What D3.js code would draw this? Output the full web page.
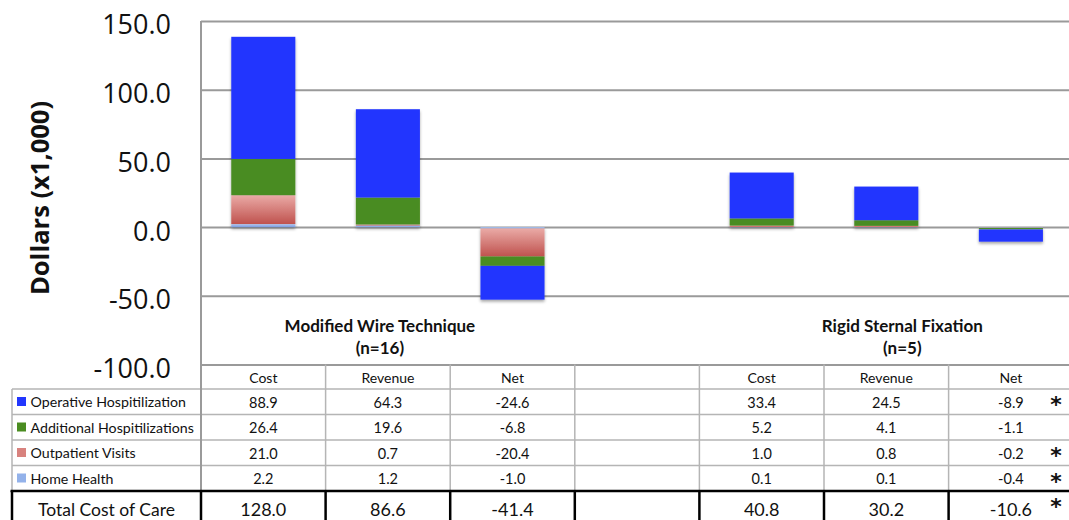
<!DOCTYPE html>
<html>
<head>
<meta charset="utf-8">
<script src="https://cdn.jsdelivr.net/npm/d3@7"></script>
<style>
  html, body { margin: 0; padding: 0; background: #fff; }
  svg { display: block; }
</style>
</head>
<body>
<div id="chart"></div>
<script>
// ---- data ----
const groups = ["Modified Wire Technique", "Rigid Sternal Fixation"];
const groupN = ["(n=16)", "(n=5)"];
const columns = ["Cost", "Revenue", "Net", "", "Cost", "Revenue", "Net"];
const seriesKeys = ["operative", "additional", "outpatient", "homeHealth"];
const seriesNames = ["Operative Hospitilization", "Additional Hospitilizations", "Outpatient Visits", "Home Health"];
const operative  = [88.9, 64.3, -24.6, null, 33.4, 24.5, -8.9];
const additional = [26.4, 19.6, -6.8, null, 5.2, 4.1, -1.1];
const outpatient = [21.0, 0.7, -20.4, null, 1.0, 0.8, -0.2];
const homeHealth = [2.2, 1.2, -1.0, null, 0.1, 0.1, -0.4];
const totals     = [128.0, 86.6, -41.4, null, 40.8, 30.2, -10.6];
const totalLabel = "Total Cost of Care";
const starRows   = [true, false, true, true, true]; // operative, additional, outpatient, home health, total (RSF net)
const yTicks     = [-100, -50, 0, 50, 100, 150];
const yTitle     = "Dollars (x1,000)";

// ---- layout ----
const W = 1069, H = 520;
const plotLeft = 201, plotTop = 21, plotBottom = 364.5;
const step0 = 124.6;
const fmt = v => v.toFixed(1);
const svg = d3.select("#chart").append("svg").attr("width", W).attr("height", H);

const x = d3.scaleBand().domain(d3.range(columns.length))
  .range([plotLeft, plotLeft + columns.length * step0])
  .paddingInner(0.486).paddingOuter(0.243);
const step = x.step();
const y = d3.scaleLinear().domain([-100, 150]).range([plotBottom, plotTop]);

const colors = {
  operative: "#2236fe",
  additional: "#4a8c21",
  outpatient: "url(#gradOut)",
  homeHealth: "url(#gradHome)"
};
const swatch = {
  operative: "#2236fe",
  additional: "#4a8c21",
  outpatient: "#d8827e",
  homeHealth: "#93b2ea"
};

const defs = svg.append("defs");
const g1 = defs.append("linearGradient").attr("id", "gradOut").attr("x1", 0).attr("y1", 0).attr("x2", 0).attr("y2", 1);
g1.append("stop").attr("offset", "0%").attr("stop-color", "#eaaaa6");
g1.append("stop").attr("offset", "100%").attr("stop-color", "#bf524e");
const g2 = defs.append("linearGradient").attr("id", "gradHome").attr("x1", 0).attr("y1", 0).attr("x2", 0).attr("y2", 1);
g2.append("stop").attr("offset", "0%").attr("stop-color", "#b1c8f0");
g2.append("stop").attr("offset", "100%").attr("stop-color", "#7b9ce0");
const sh = defs.append("filter").attr("id", "shadow").attr("x", "-10%").attr("y", "-10%").attr("width", "120%").attr("height", "130%");
sh.append("feDropShadow").attr("dx", 0).attr("dy", 2).attr("stdDeviation", 1.6)
  .attr("flood-color", "#000").attr("flood-opacity", 0.35);

// ---- gridlines + y axis ----
const yAxis = d3.axisLeft(y).tickValues(yTicks)
  .tickFormat(fmt)
  .tickSizeInner(-(W - plotLeft + 10)).tickSizeOuter(0).tickPadding(30);
const ag = svg.append("g").attr("transform", `translate(${plotLeft},0)`).call(yAxis);
ag.select(".domain").remove();
ag.selectAll(".tick line").attr("stroke", "#9a9a9a").attr("stroke-width", 2);
ag.selectAll(".tick text")
  .attr("font-family", "'Open Sans', sans-serif").attr("font-size", 27)
  .attr("fill", "#111").attr("dy", "0.48em");

// y axis title
svg.append("text")
  .attr("transform", `translate(48.5,198) rotate(-90)`)
  .attr("text-anchor", "middle")
  .attr("font-family", "'Open Sans', sans-serif").attr("font-weight", 700)
  .attr("font-size", 25.5).attr("fill", "#111")
  .text(yTitle);

// ---- bars ----
const rows = columns.map((c, i) => ({
  i,
  operative: operative[i] || 0,
  additional: additional[i] || 0,
  outpatient: outpatient[i] || 0,
  homeHealth: homeHealth[i] || 0
}));
const stackKeys = ["homeHealth", "outpatient", "additional", "operative"];
const stacked = d3.stack().keys(stackKeys).offset(d3.stackOffsetDiverging)(rows);

const barsG = svg.append("g").attr("filter", "url(#shadow)");
stacked.forEach(layer => {
  barsG.append("g").selectAll("rect")
    .data(layer.filter(d => d[1] !== d[0]))
    .join("rect")
    .attr("x", d => x(d.data.i))
    .attr("width", x.bandwidth())
    .attr("y", d => y(Math.max(d[0], d[1])))
    .attr("height", d => Math.abs(y(d[0]) - y(d[1])))
    .attr("fill", colors[layer.key]);
});

// group labels
const groupCenters = [x(1) + x.bandwidth() / 2 - 8, x(5) + x.bandwidth() / 2 + 16];
groups.forEach((gname, k) => {
  const t = svg.append("text")
    .attr("text-anchor", "middle")
    .attr("font-family", "Lato, 'Open Sans', sans-serif").attr("font-weight", 700)
    .attr("font-size", 17).attr("fill", "#111");
  t.append("tspan").attr("x", groupCenters[k]).attr("y", 332).text(gname);
  t.append("tspan").attr("x", groupCenters[k]).attr("y", 353.5).text(groupN[k]);
});

// ---- data table ----
const tableTop = plotBottom;
const headerH = 24.5, rowH = 25.5;
const rowTop = r => tableTop + headerH + r * rowH;
const totalTop = rowTop(4);
const labelLeft = 12;
const right = W + 10;
const gray = "#b5b5b5";
const font = "Lato, 'Open Sans', sans-serif";

const tg = svg.append("g");
// horizontal gray lines
for (let r = 0; r < 4; r++) {
  tg.append("line").attr("x1", labelLeft).attr("x2", right)
    .attr("y1", rowTop(r)).attr("y2", rowTop(r))
    .attr("stroke", gray).attr("stroke-width", 1.5);
}
// vertical gray lines (column boundaries)
for (let c = 1; c < columns.length; c++) {
  const xx = plotLeft + c * step;
  tg.append("line").attr("x1", xx).attr("x2", xx)
    .attr("y1", tableTop).attr("y2", totalTop)
    .attr("stroke", gray).attr("stroke-width", 1.5);
}
// label column left border
tg.append("line").attr("x1", labelLeft).attr("x2", labelLeft)
  .attr("y1", rowTop(0)).attr("y2", totalTop)
  .attr("stroke", gray).attr("stroke-width", 1.5);
// y-axis line (left plot border)
tg.append("line").attr("x1", plotLeft).attr("x2", plotLeft)
  .attr("y1", plotTop).attr("y2", totalTop)
  .attr("stroke", "#9a9a9a").attr("stroke-width", 2);

// total row black lines
tg.append("line").attr("x1", labelLeft - 1.5).attr("x2", right)
  .attr("y1", totalTop).attr("y2", totalTop)
  .attr("stroke", "#000").attr("stroke-width", 2.5);
[labelLeft].concat(d3.range(0, columns.length).map(c => plotLeft + c * step)).forEach(xx => {
  tg.append("line").attr("x1", xx).attr("x2", xx)
    .attr("y1", totalTop).attr("y2", H + 5)
    .attr("stroke", "#000").attr("stroke-width", 2.5);
});

// header labels
columns.forEach((c, i) => {
  if (!c) return;
  tg.append("text").attr("x", x(i) + x.bandwidth() / 2).attr("y", tableTop + 18.5)
    .attr("text-anchor", "middle").attr("font-family", font).attr("font-size", 14)
    .attr("fill", "#111").text(c);
});

// series rows
const seriesData = [operative, additional, outpatient, homeHealth];
seriesKeys.forEach((k, r) => {
  const top = rowTop(r);
  tg.append("rect").attr("x", 17).attr("y", top + 8).attr("width", 9).attr("height", 9)
    .attr("fill", swatch[k]);
  tg.append("text").attr("x", 30.5).attr("y", top + 18)
    .attr("font-family", font).attr("font-size", 14.2).attr("fill", "#111")
    .text(seriesNames[r]);
  seriesData[r].forEach((v, i) => {
    if (v === null) return;
    tg.append("text").attr("x", x(i) + x.bandwidth() / 2).attr("y", top + 18.5)
      .attr("text-anchor", "middle").attr("font-family", font).attr("font-size", 14.5)
      .attr("fill", "#111").text(fmt(v));
  });
});

// total row
tg.append("text").attr("x", (labelLeft + plotLeft) / 2).attr("y", totalTop + 25)
  .attr("text-anchor", "middle").attr("font-family", font).attr("font-size", 17.5)
  .attr("fill", "#111").text(totalLabel);
totals.forEach((v, i) => {
  if (v === null) return;
  tg.append("text").attr("x", x(i) + x.bandwidth() / 2).attr("y", totalTop + 25)
    .attr("text-anchor", "middle").attr("font-family", font).attr("font-size", 18)
    .attr("fill", "#111").text(fmt(v));
});

// significance asterisks (RSF net column)
const starX = x(6) + x.bandwidth() / 2 + 45;
starRows.forEach((s, r) => {
  if (!s) return;
  const top = r < 4 ? rowTop(r) : totalTop;
  tg.append("text").attr("x", starX).attr("y", top + 23)
    .attr("text-anchor", "middle").attr("font-family", "'DejaVu Sans', sans-serif")
    .attr("font-weight", 700).attr("font-size", 22).attr("fill", "#111").text("*");
});
</script>
</body>
</html>
